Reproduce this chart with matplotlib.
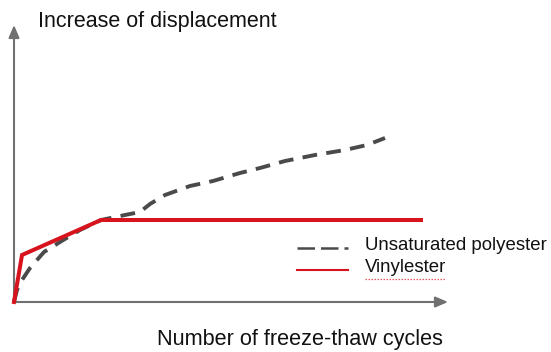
import matplotlib
matplotlib.use("Agg")
import matplotlib.pyplot as plt

plt.rcParams['font.family'] = ['Liberation Sans', 'DejaVu Sans']

# Schematic curves (arbitrary units: cycles vs. displacement increase)
polyester_x = [0, 3, 8, 16, 30, 46, 66, 87, 111, 126, 136, 151, 176, 199, 226, 246, 271, 301, 331, 353, 371]
polyester_y = [0, 12, 22, 34, 50, 60, 72, 82, 87, 90, 98, 107, 116, 121, 129, 134, 141, 147, 152, 157, 164]

vinylester_x = [0, 8, 87, 407]
vinylester_y = [0, 47, 82, 82]

series_labels = ["Unsaturated polyester", "Vinylester"]
x_label = "Number of freeze-thaw cycles"
y_label = "Increase of displacement"

gray = "#4a4a4a"
red = "#d7141e"
axis_col = "#707070"

fig = plt.figure(figsize=(5.51, 3.52), dpi=100)
ax = fig.add_axes([0, 0, 1, 1])
ax.set_xlim(-14, 537)
ax.set_ylim(-50, 302)
ax.axis("off")

# Arrowed axes
arrow = dict(arrowstyle="-|>,head_length=0.75,head_width=0.32", color=axis_col, lw=1.5,
             shrinkA=0, shrinkB=0)
ax.annotate("", xy=(434, 0), xytext=(0, 0), arrowprops=arrow)
ax.annotate("", xy=(0, 277), xytext=(0, 0), arrowprops=arrow)

# Curves
ax.plot(polyester_x, polyester_y, color=gray, lw=2.8, dashes=(3.8, 2.4),
        solid_capstyle="butt", dash_capstyle="butt", zorder=3)
ax.plot(vinylester_x, vinylester_y, color=red, lw=2.9, solid_joinstyle="miter", zorder=4)

# Axis titles
ax.text(24, 281, y_label, fontsize=15.5, ha="left", va="center", color="#111111")
ax.text(286, -38, x_label, fontsize=15.6, ha="center", va="center", color="#111111")

# Legend
ax.plot([283, 334], [54, 54], color=gray, lw=1.8, dashes=(7, 2.4), dash_capstyle="butt")
ax.plot([283, 334], [32, 32], color=red, lw=1.5)
ax.text(351, 56, series_labels[0], fontsize=13.4, ha="left", va="center", color="#111111")
ax.text(351, 34, series_labels[1], fontsize=13.4, ha="left", va="center", color="#111111")
ax.plot([351, 431], [23, 23], color="#e0303a", lw=0.9, ls=(0, (1.2, 1.2)), alpha=0.8)

fig.savefig("out.png", dpi=100)
